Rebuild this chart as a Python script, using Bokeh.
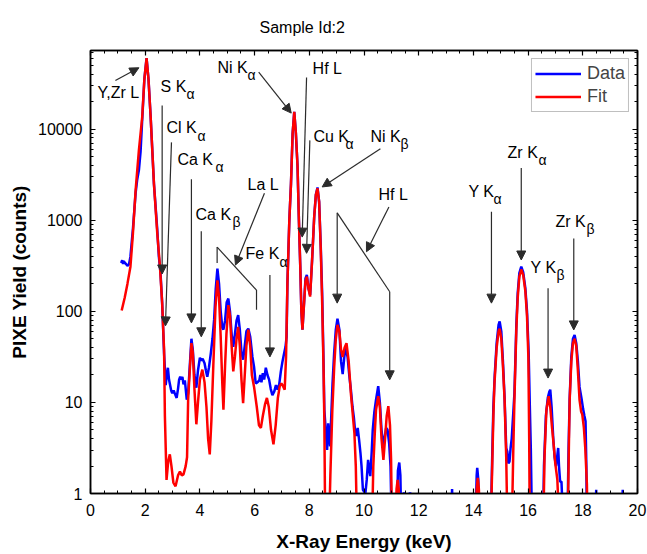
from bokeh.plotting import figure
from bokeh.models import (LogAxis, LinearAxis, FixedTicker, SingleIntervalTicker,
                          PrintfTickFormatter, Arrow, NormalHead, Legend, LegendItem, Range1d)
from bokeh.core.properties import value
from bokeh.embed import file_html
from bokeh.resources import INLINE

FONT = "Liberation Sans"

# ---------------- data ----------------
data_energy = [1.12, 1.16, 1.19, 1.22, 1.26, 1.30, 1.35, 1.41, 1.46, 1.55, 1.65, 1.71, 1.77, 1.83, 1.89,
               1.97, 2.05, 2.12, 2.20, 2.32, 2.44, 2.50, 2.56, 2.62, 2.69, 2.75, 2.79, 2.83, 2.87, 2.91,
               2.95, 2.99, 3.04, 3.08, 3.15, 3.20, 3.24, 3.28, 3.32, 3.36, 3.40, 3.45, 3.52, 3.57, 3.62,
               3.69, 3.74, 3.80, 3.87, 3.93, 4.00, 4.05, 4.10, 4.17, 4.22, 4.27, 4.33, 4.40, 4.46, 4.52,
               4.58, 4.64, 4.70, 4.76, 4.82, 4.86, 4.92, 4.98, 5.04, 5.10, 5.16, 5.22, 5.28, 5.34, 5.40,
               5.46, 5.52, 5.58, 5.64, 5.70, 5.77, 5.84, 5.92, 5.98, 6.04, 6.10, 6.17, 6.21, 6.25, 6.30,
               6.35, 6.41, 6.47, 6.53, 6.59, 6.65, 6.72, 6.78, 6.84, 6.90, 6.96, 7.02, 7.08, 7.13, 7.17,
               7.20, 7.27, 7.33, 7.39, 7.45, 7.51, 7.57, 7.62, 7.67, 7.71, 7.75, 7.80, 7.86, 7.91, 7.97,
               8.03, 8.10, 8.18, 8.24, 8.30, 8.36, 8.42, 8.47, 8.52, 8.55, 8.60, 8.65, 8.69, 8.73, 8.76,
               8.85, 8.91, 8.97, 9.03, 9.10, 9.16, 9.22, 9.28, 9.33, 9.40, 9.46, 9.52, 9.58, 9.63, 9.67,
               9.72, 9.77, 9.82, 9.87, 9.91, 9.96, 10.05, 10.10, 10.15, 10.20, 10.23, 10.28, 10.32, 10.38,
               10.44, 10.52, 10.58, 10.64, 10.71, 10.76, 10.81, 10.86, 10.92, 10.97, 11.01, 11.20, 11.24,
               11.29, 11.33, 11.36, 11.43, 11.50, 11.53, 11.65, 11.72, 11.75, 13.20, 13.22, 13.25, 14.08,
               14.12, 14.14, 14.18, 14.22, 14.64, 14.68, 14.73, 14.78, 14.85, 14.92, 14.96, 15.02, 15.08,
               15.14, 15.20, 15.24, 15.28, 15.32, 15.36, 15.40, 15.46, 15.50, 15.57, 15.62, 15.68, 15.75,
               15.82, 15.90, 15.96, 16.02, 16.06, 16.10, 16.14, 16.55, 16.58, 16.65, 16.72, 16.78, 16.81,
               16.86, 16.92, 16.97, 17.02, 17.07, 17.10, 17.13, 17.17, 17.22, 17.28, 17.44, 17.48, 17.52,
               17.58, 17.64, 17.70, 17.76, 17.82, 17.88, 17.95, 18.01, 18.06, 18.10, 18.13, 18.15, 18.47,
               18.49, 18.51, 19.44, 19.46, 19.48]
data_counts = [339, 363, 331, 355, 339, 331, 316, 331, 398, 794, 2000, 2820, 3550, 5620, 12600,
               35500, 60300, 35500, 13500, 2510, 794, 398, 263, 123, 34.7, 15.5, 20, 24, 17.8, 15.5,
               13.5, 12.6, 13.5, 12.6, 11.2, 14.1, 17.8, 19.1, 17.8, 19.1, 15.8, 17.4, 10.7, 12.6, 22.4,
               50, 38, 20, 14.5, 22.4, 30.9, 28.8, 30.2, 26.9, 22.4, 19.1, 24, 34.7, 50, 81,
               178, 295, 200, 100, 66, 63, 79, 126, 138, 100, 56.2, 40.7, 56.2, 79, 91,
               63, 35.5, 29.5, 41.7, 60.3, 64.6, 52.5, 31.6, 24.5, 16.2, 16.6, 17.4, 20, 16.6, 20.9,
               17.8, 24, 20, 17.8, 14.1, 12, 13.2, 15.5, 13.8, 15.8, 21.9, 28.2, 34.7, 40.7, 52.5,
               204, 1000, 2510, 8910, 15500, 8910, 3890, 1000, 309, 100, 63, 112, 229, 251, 178,
               151, 355, 1100, 1900, 2290, 1585, 501, 158, 28.2, 8.3, 5.0, 3.0, 5.9, 4.0, 3.3,
               16.2, 35.5, 63, 83, 63, 28.2, 20.4, 31.6, 39.8, 31.6, 20, 13.8, 8.9, 6.8, 5.0,
               4.27, 5.25, 3.9, 2.8, 2.0, 1.1, 1.0, 1.41, 2.34, 1.78, 1.55, 2.8, 5.0, 7.9,
               10.7, 15.1, 10, 5.0, 3.3, 4.2, 5.25, 5.0, 3.55, 2.0, 0.5, 0.5, 1.78,
               2.19, 1.58, 0.5, 1.0, 1.0, 0.5, 1.0, 1.0, 0.5, 0.5, 1.12, 0.5, 0.5,
               1.58, 1.91, 1.41, 0.5, 0.5, 2.0, 8.9, 20, 44.7, 70.8, 77.6, 60.3, 28.2,
               11.2, 3.16, 2.88, 2.14, 2.24, 3.16, 3.98, 7.9, 12.6, 70.8, 158, 263, 309,
               269, 178, 100, 35.5, 10, 3.02, 0.5, 0.5, 2.0, 7.1, 11.2, 13.2, 13.8,
               8.9, 4.0, 2.5, 2.0, 2.63, 3.16, 2.0, 1.35, 1.35, 0.5, 0.5, 3.16, 11.2,
               31.6, 50, 55, 44.7, 28.2, 14.8, 11.2, 8.5, 7.1, 6.2, 2.0, 0.5, 0.5,
               1.1, 0.5, 0.5, 1.1, 0.5]

fit_energy = [1.14, 1.25, 1.35, 1.46, 1.55, 1.65, 1.77, 1.89, 1.97, 2.05, 2.12, 2.20, 2.32, 2.44, 2.54,
              2.62, 2.69, 2.72, 2.78, 2.84, 2.90, 2.96, 3.03, 3.11, 3.20, 3.27, 3.34, 3.40, 3.48, 3.53,
              3.57, 3.62, 3.69, 3.74, 3.80, 3.87, 3.93, 4.00, 4.09, 4.17, 4.24, 4.30, 4.36, 4.42, 4.49,
              4.57, 4.64, 4.70, 4.76, 4.82, 4.86, 4.92, 4.97, 5.04, 5.10, 5.16, 5.22, 5.28, 5.34, 5.40,
              5.46, 5.52, 5.58, 5.64, 5.70, 5.77, 5.84, 5.90, 5.98, 6.08, 6.16, 6.23, 6.30, 6.38, 6.45,
              6.52, 6.60, 6.69, 6.77, 6.85, 6.92, 6.98, 7.04, 7.10, 7.15, 7.20, 7.27, 7.33, 7.39, 7.45,
              7.51, 7.57, 7.62, 7.67, 7.71, 7.75, 7.80, 7.86, 7.91, 7.97, 8.03, 8.10, 8.18, 8.24, 8.30,
              8.36, 8.42, 8.47, 8.52, 8.55, 8.58, 8.73, 8.77, 8.84, 8.91, 8.97, 9.03, 9.10, 9.16, 9.22,
              9.29, 9.36, 9.44, 9.52, 9.58, 9.65, 9.70, 9.74, 10.30, 10.34, 10.40, 10.44, 10.52, 10.58,
              10.64, 10.71, 10.77, 10.83, 10.89, 10.95, 10.99, 11.02, 11.16, 11.19, 11.23, 11.27, 11.30,
              14.08, 14.12, 14.16, 14.20, 14.24, 14.64, 14.68, 14.73, 14.77, 14.85, 14.92, 14.96, 15.02,
              15.08, 15.14, 15.20, 15.24, 15.41, 15.46, 15.50, 15.57, 15.62, 15.68, 15.75, 15.82, 15.90,
              15.96, 16.01, 16.04, 16.06, 16.56, 16.60, 16.67, 16.75, 16.81, 16.87, 16.93, 16.99, 17.07,
              17.13, 17.45, 17.49, 17.52, 17.58, 17.64, 17.70, 17.76, 17.82, 17.88, 17.94, 17.98, 18.04,
              18.09, 18.15, 18.17]
fit_counts = [102, 141, 200, 309, 708, 2140, 5890, 13500, 35500, 60300, 35500, 13500, 2510, 724, 309,
              123, 38, 7.1, 1.41, 2.24, 2.69, 2.0, 1.32, 1.2, 1.58, 1.74, 1.58, 1.62, 2.0, 2.5,
              10.7, 20, 44.7, 35.5, 14.1, 5.75, 10, 17.8, 22.9, 16.6, 8.9, 4.0, 2.69, 6.3, 25.1,
              112, 219, 141, 52.5, 15.8, 8.3, 25.1, 56.2, 117, 89, 41.7, 21.9, 31.6, 50, 67.6,
              41.7, 17.8, 9.8, 20, 41.7, 63.1, 41.7, 20, 14.8, 8.9, 5.6, 5.25, 7.1, 9.5, 11.2,
              8.9, 5.0, 3.47, 5.6, 11.2, 15.1, 16.2, 15.1, 13.8, 31.6, 204, 1000, 2510, 8910, 15500,
              8910, 3890, 1000, 309, 100, 63, 112, 214, 240, 178, 145, 355, 1100, 1900, 2240,
              1585, 468, 126, 24.5, 6.3, 0.5, 0.5, 1.58, 7.9, 24.5, 50, 70.8, 60.3, 38, 31.6,
              39.8, 44.7, 28.2, 12.6, 7.9, 4.57, 2.0, 0.5, 0.5, 2.0, 5.0, 8.3, 11.7, 8.9,
              4.0, 2.34, 4.0, 7.1, 9.1, 5.6, 2.34, 0.5, 0.5, 1.12, 1.41, 1.12, 0.5,
              0.5, 1.12, 1.48, 1.12, 0.5, 0.5, 1.58, 7.1, 16.2, 39.8, 60.3, 64.6, 50,
              25.1, 10.7, 2.5, 0.5, 0.5, 3.16, 10.7, 63.1, 141, 240, 288, 251, 166,
              89, 31.6, 4.0, 0.5, 0.5, 2.5, 8.3, 11.7, 8.9, 5.5, 3.55, 2.19, 1.41,
              0.5, 0.5, 3.16, 10.7, 28.2, 44.7, 50, 41.7, 22.4, 10.7, 7.9, 7.4, 5.25,
              3.16, 1.26, 0.5]

x_ticks = [0, 2, 4, 6, 8, 10, 12, 14, 16, 18, 20]
y_ticks = [1, 10, 100, 1000, 10000]

# peak annotations: main text, x (keV), y (counts)
label_main = ["Y,Zr L", "S K", "Cl K", "Ca K", "Ca K", "La L", "Fe K", "Ni K", "Hf L", "Cu K",
              "Ni K", "Hf L", "Y K", "Zr K", "Y K", "Zr K"]
label_x = [0.26, 2.56, 2.78, 3.18, 3.84, 5.74, 5.67, 4.64, 8.12, 8.15, 10.24, 10.53, 13.82, 15.25, 16.09, 17.00]
label_y = [25100, 29400, 10300, 4670, 1170, 2480, 426, 48100, 46900, 8340, 8340, 1930, 2080, 5570, 303, 977]
# subscripts: text, x (keV), y (counts), x offset (px) from the main label
sub_text = ["\u03b1", "\u03b1", "\u03b1", "\u03b2", "\u03b1", "\u03b1", "\u03b1", "\u03b2", "\u03b1", "\u03b1", "\u03b2", "\u03b2"]
sub_x = [2.56, 2.78, 3.18, 3.84, 5.67, 4.64, 8.15, 10.24, 13.82, 15.25, 16.09, 17.00]
sub_y = [29400, 10300, 4670, 1170, 426, 48100, 8340, 8340, 2080, 5570, 303, 977]
sub_dx = [26, 31, 38, 37, 34, 30, 32, 30, 25, 31, 26, 31]

# arrows: start (keV, counts) -> end (keV, counts)
arrow_x0 = [0.91, 2.62, 2.96, 3.69, 4.05, 6.36, 6.56, 6.15, 7.90, 8.02, 10.60, 10.91, 9.02, 10.94, 14.66, 15.75, 16.73, 17.67]
arrow_y0 = [34200, 18200, 7160, 2820, 759, 1980, 251, 42200, 36900, 7530, 6110, 1400, 1205, 164, 1240, 3750, 179, 631]
arrow_x1 = [1.77, 2.62, 2.74, 3.69, 4.05, 5.30, 6.56, 7.34, 7.74, 7.90, 8.47, 10.09, 9.02, 10.94, 14.66, 15.75, 16.73, 17.67]
arrow_y1 = [47200, 257, 69.2, 74.6, 52.5, 322, 31.6, 15000, 653, 433, 2320, 451, 123, 17.7, 123, 366, 18.5, 62.5]

# plain bracket segments (no heads)
seg_x0 = [4.63, 4.63, 6.07, 9.02]
seg_y0 = [507, 507, 171, 1205]
seg_x1 = [4.63, 6.07, 6.07, 10.94]
seg_y1 = [339, 171, 104, 164]

# ---------------- figure ----------------
p = figure(width=647, height=554, x_range=Range1d(0, 20), y_range=Range1d(1, 73000),
           y_axis_type="log", output_backend="svg", toolbar_location=None,
           min_border_left=90, min_border_right=10, min_border_top=50, min_border_bottom=60,
           background_fill_color="white", border_fill_color="white")
p.grid.visible = False
p.outline_line_color = "black"
p.outline_line_width = 1.5

p.title.text = "Sample Id:2"
p.title.text_font = FONT
p.title.text_font_size = "16px"
p.title.text_font_style = "normal"
p.title.text_color = "black"
p.title.align = "left"
p.title.offset = 169
p.title.standoff = 29

minor_y = [m * 10 ** e for e in range(0, 5) for m in range(2, 10)]
axis_style = dict(axis_line_width=1.5, axis_line_color="black",
                  major_tick_in=5, major_tick_out=0, minor_tick_in=3, minor_tick_out=0,
                  major_tick_line_color="black", minor_tick_line_color="black",
                  major_tick_line_width=1.2)

xa = p.xaxis[0]
xa.ticker = SingleIntervalTicker(interval=2, num_minor_ticks=4)
xa.axis_label = "X-Ray Energy (keV)"
xa.axis_label_text_font = FONT
xa.axis_label_text_font_size = "19px"
xa.axis_label_text_font_style = "bold"
xa.axis_label_text_color = "black"
xa.axis_label_standoff = 12
xa.major_label_text_font = FONT
xa.major_label_text_font_size = "16px"
xa.major_label_text_color = "black"
xa.major_label_standoff = 10
for k, v in axis_style.items():
    setattr(xa, k, v)

ya = p.yaxis[0]
ya.ticker = FixedTicker(ticks=y_ticks, minor_ticks=minor_y)
ya.formatter = PrintfTickFormatter(format="%d")
ya.axis_label = "PIXE Yield (counts)"
ya.axis_label_text_font = FONT
ya.axis_label_text_font_size = "19px"
ya.axis_label_text_font_style = "bold"
ya.axis_label_text_color = "black"
ya.axis_label_standoff = 5
ya.major_label_text_font = FONT
ya.major_label_text_font_size = "16px"
ya.major_label_text_color = "black"
ya.major_label_standoff = 8
for k, v in axis_style.items():
    setattr(ya, k, v)

top_axis = LinearAxis(ticker=SingleIntervalTicker(interval=2, num_minor_ticks=4),
                      major_label_text_alpha=0, major_label_text_font_size="1px",
                      major_label_standoff=0, **axis_style)
right_axis = LogAxis(ticker=FixedTicker(ticks=y_ticks, minor_ticks=minor_y),
                     major_label_text_alpha=0, major_label_text_font_size="1px",
                     major_label_standoff=0, **axis_style)
p.add_layout(top_axis, "above")
p.add_layout(right_axis, "right")

# curves
r_data = p.line(data_energy, data_counts, line_color="#0000ff", line_width=2.5)
r_fit = p.line(fit_energy, fit_counts, line_color="#ff0000", line_width=2.5)

# annotations
ANN = "#2b2b2b"
p.segment(x0=seg_x0, y0=seg_y0, x1=seg_x1, y1=seg_y1, line_color=ANN, line_width=1.2)
for i in range(len(arrow_x0)):
    p.add_layout(Arrow(end=NormalHead(size=9, fill_color=ANN, line_color=ANN, line_width=1),
                       x_start=arrow_x0[i], y_start=arrow_y0[i], x_end=arrow_x1[i], y_end=arrow_y1[i],
                       line_color=ANN, line_width=1.2))

p.text(x=label_x, y=label_y, text=label_main, text_font=value(FONT), text_font_size="16px",
       text_baseline="middle", text_align="left", text_color="black")
p.text(x=sub_x, y=sub_y, text=sub_text, x_offset=sub_dx, y_offset=8,
       text_font=value(FONT), text_font_size="14px", text_baseline="middle", text_align="left",
       text_color="black")

legend = Legend(items=[LegendItem(label="Data", renderers=[r_data]),
                       LegendItem(label="Fit", renderers=[r_fit])],
                location="top_right", margin=8, padding=3, spacing=0,
                glyph_width=46, glyph_height=23, label_height=23, label_standoff=6,
                label_text_font=FONT, label_text_font_size="18px",
                border_line_color="#808080", border_line_width=1.2,
                background_fill_color="white", background_fill_alpha=1)
p.add_layout(legend)

open("out.html", "w").write(file_html(p, INLINE))
